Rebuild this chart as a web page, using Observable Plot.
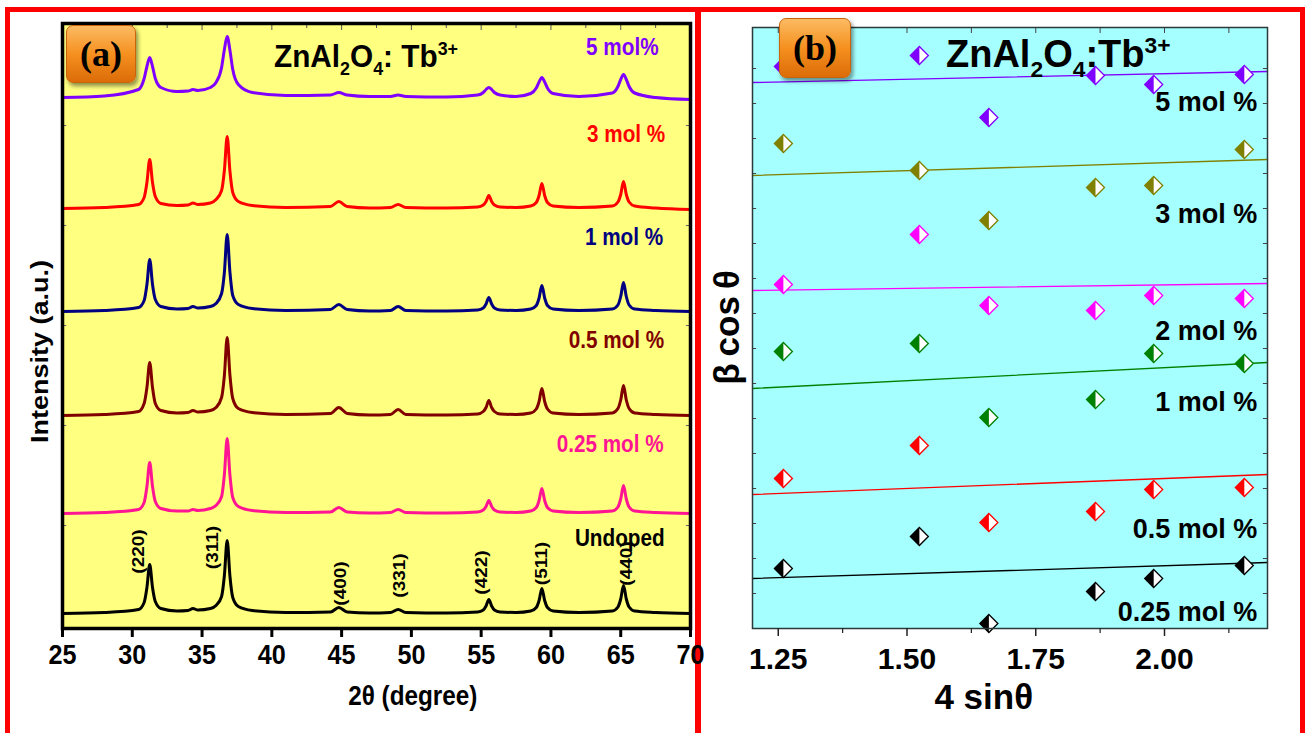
<!DOCTYPE html>
<html>
<head>
<meta charset="utf-8">
<script src="https://cdn.jsdelivr.net/npm/d3@7"></script>
<script src="https://cdn.jsdelivr.net/npm/@observablehq/plot@0.6"></script>
<style>
  body { margin: 0; background: #fff; overflow: hidden; }
  #fig { position: relative; width: 1305px; height: 733px; overflow: hidden;
         font-family: "Liberation Sans", Arial, sans-serif; }
  .frame { position: absolute; border: 5px solid #ff0000; box-sizing: border-box; }
  .badge { position: absolute; box-sizing: border-box; border-radius: 7px;
           background: linear-gradient(#fcbb63, #f5901f 50%, #dc6c08);
           border: 1px solid #c9640a; box-shadow: 2px 3px 4px rgba(0,0,0,0.45);
           font-family: "Liberation Serif", "Times New Roman", serif; font-weight: bold;
           font-size: 36px; color: #000; display: flex; align-items: center; justify-content: center; }
  .title { position: absolute; font-weight: bold; white-space: nowrap; color: #000; line-height: 1; }
  .title sub, .title sup { font-size: 60%; line-height: 0; }
  .title sub { vertical-align: -0.42em; }
  .title sup { vertical-align: 0.62em; }
</style>
</head>
<body>
<div id="fig">
  <div class="frame" style="left:5px;top:7px;width:696px;height:780px"></div>
  <div class="frame" style="left:695px;top:7px;width:610px;height:780px"></div>
  <div id="overlay">
    <div class="title" style="left:274px;top:40px;font-size:32px;transform:scaleX(0.93);transform-origin:left center">ZnAl<sub>2</sub>O<sub>4</sub>: Tb<sup>3+</sup></div>
    <div class="title" style="left:946px;top:35px;font-size:38px">ZnAl<sub>2</sub>O<sub>4</sub>:Tb<sup>3+</sup></div>
    <div class="badge" style="left:66px;top:25px;width:70px;height:58px">(a)</div>
    <div class="badge" style="left:779px;top:18px;width:72px;height:60px">(b)</div>
  </div>
</div>
<script>
// ---------- (a) XRD patterns ----------
// 2θ sampling positions (degrees), shared by every trace
const twoTheta = [25, 28, 30.45, 30.85, 31.05, 31.25, 31.45, 31.65, 32.05, 33.2, 34.0, 34.35, 34.7,
  35.6, 36.0, 36.4, 36.6, 36.8, 37.0, 37.2, 37.6, 38.6, 41.0, 44.2, 44.8, 45.4, 47.0, 48.5, 49.05, 49.6,
  52.5, 54.75, 55.15, 55.35, 55.55, 55.75, 55.95, 56.35, 57.5, 58.55, 58.95, 59.15, 59.35, 59.55, 59.75,
  60.15, 62.0, 64.4, 64.8, 65.0, 65.2, 65.4, 65.6, 66.0, 67.5, 70];

// intensity above each trace's own baseline (a.u.)
const iUndoped = [0, 1, 4, 11, 26, 49, 26, 12, 5, 2.5, 3, 5, 3.5, 5, 8, 17, 38, 73, 37, 16, 7, 3, 1,
  1.5, 6, 1.5, 0.5, 1, 4, 1, 0.5, 1.5, 3.5, 7.5, 14, 7.5, 3.5, 1.5, 1, 2.5, 6, 13, 25, 13, 6, 2.5, 1,
  2.5, 6.5, 14.5, 28, 14.5, 6.5, 2.5, 1, 0];
const i025 = [0, 1, 4, 11, 27, 51, 27, 12, 5, 2.5, 2.5, 4, 3, 5, 8, 17, 39, 75, 38, 16, 7, 3, 1,
  1.5, 6, 1.5, 0.5, 1, 4, 1, 0.5, 1.5, 3.5, 7, 13, 7, 3.5, 1.5, 1, 2.5, 6, 13, 25, 13, 6, 2.5, 1,
  2.5, 6.5, 14.5, 28, 14.5, 6.5, 2.5, 1, 0];
const i05 = [0, 1, 4, 12, 28, 53, 28, 12, 5, 2.5, 3, 5, 3.5, 5, 8, 18, 40, 78, 40, 17, 7, 3, 1,
  2, 8, 2, 0.5, 1, 6, 1, 0.5, 1.5, 4, 8, 15, 8, 4, 1.5, 1, 2.5, 6.5, 14, 27, 14, 6.5, 2.5, 1,
  2.5, 7, 15.5, 30, 15.5, 7, 2.5, 1, 0];
const i1 = [0, 1, 4, 11, 27, 52, 27, 12, 5, 2.5, 3, 5, 3.5, 5, 8, 18, 39, 77, 39, 16, 7, 3, 1,
  2, 7, 2, 0.5, 1, 5, 1, 0.5, 1.5, 3.5, 7.5, 14, 7.5, 3.5, 1.5, 1, 2.5, 6, 13.5, 26, 13.5, 6, 2.5, 1,
  2.5, 6.5, 15, 29, 15, 6.5, 2.5, 1, 0];
const i3 = [0, 1, 4, 11, 26, 49, 26, 12, 5, 3, 3.5, 5.5, 4, 5.5, 9, 18, 38, 72, 37, 16, 7, 3, 1,
  2, 7, 2, 0.5, 1, 4, 1, 0.5, 1.5, 3.5, 7, 13, 7, 3.5, 1.5, 1, 2.5, 6, 13, 25, 13, 6, 2.5, 1,
  2.5, 6.5, 14, 27, 14, 6.5, 2.5, 0.5, -1];
const i5 = [0, 1.5, 8, 19, 31, 40, 31, 19, 10, 6, 6.5, 8, 7, 10, 15, 30, 48, 61, 47, 28, 13, 5, 2,
  2.5, 5, 2.5, 1, 1, 2.5, 1, 0.5, 2.5, 5, 8, 10, 8, 5, 2.5, 1, 4, 9.5, 15.5, 20, 15.5, 9.5, 4, 1,
  4.5, 11, 18, 23, 18, 11, 4.5, 0, -2];

const xrdSamples = ["Undoped", "0.25 mol %", "0.5 mol %", "1 mol %", "3 mol %", "5 mol%"];
const xrdOffsets = [12, 112, 210, 314, 417, 528];
const xrdColors = ["#000000", "#ff1493", "#800000", "#000080", "#ff0000", "#8000ff"];
const xrdLabelX = [68.5, 68.5, 68.5, 68.35, 68.5, 68.0];
const xrdLabelY = [87, 181, 285, 388, 491, 578];

// Miller indices of the spinel reflections, written beside the undoped peaks
const hkl = ["(220)", "(311)", "(400)", "(331)", "(422)", "(511)", "(440)"];
const hklX = [30.42, 35.77, 44.95, 49.12, 55.0, 59.34, 65.41];
const hklY = [74, 78, 42, 50, 53, 62, 62];

const xTicksA = [25, 30, 35, 40, 45, 50, 55, 60, 65, 70];
const xMinorA = [27.5, 32.5, 37.5, 42.5, 47.5, 52.5, 57.5, 62.5, 67.5];
const yTicksA = [100, 200, 300, 400, 500];

// ---------- (b) Williamson–Hall plots ----------
const fourSinTheta = [1.26, 1.524, 1.659, 1.866, 1.979, 2.155];
const whSamples = ["0.25 mol %", "0.5 mol %", "1 mol %", "2 mol %", "3 mol %", "5 mol %"];
const whColors = ["#000000", "#ff0000", "#008000", "#ff00ff", "#808000", "#8000ff"];
const bc025 = [60, 92, 5, 37, 50, 63];
const bc05 = [150, 183, 106, 117, 139, 141];
const bc1 = [277, 285, 211, 229, 275, 265];
const bc2 = [344, 394, 323, 318, 333, 330];
const bc3 = [485, 458, 408, 441, 443, 479];
const bc5 = [562, 573, 511, 553, 544, 554];
// linear fits, given at both ends of the 4 sinθ range
const fitX = [1.2, 2.2];
const fitStart = [50, 134, 240, 338, 453, 546];
const fitEnd = [66, 154, 266, 345, 469, 557];
const whLabelY = [16, 99, 226, 297, 414, 526];

const xTicksB = [1.25, 1.5, 1.75, 2.0];
const xMinorB = [1.375, 1.625, 1.875, 2.125];
const yTicksB = [35, 70, 105, 140, 175, 210, 245, 280, 315, 350, 385, 420, 455, 490, 525, 560];

// ---------- tables ----------
const xrdIntensity = [iUndoped, i025, i05, i1, i3, i5];
const rowsA = xrdSamples.flatMap((s, k) =>
  twoTheta.map((t, i) => ({sample: s, t, v: xrdOffsets[k] + xrdIntensity[k][i]})));

const whValues = [bc025, bc05, bc1, bc2, bc3, bc5];
const rowsB = whSamples.flatMap((s, k) =>
  fourSinTheta.map((x, i) => ({sample: s, x, y: whValues[k][i]})));
const fitRows = whSamples.flatMap((s, k) => [
  {sample: s, x: fitX[0], y: fitStart[k]},
  {sample: s, x: fitX[1], y: fitEnd[k]}
]);

// half-filled diamond marker: white outline body + coloured left half
const diamondBody = {draw(ctx, size) {
  const h = Math.sqrt(size / Math.PI) * 1.8;
  ctx.moveTo(0, -h); ctx.lineTo(h, 0); ctx.lineTo(0, h); ctx.lineTo(-h, 0); ctx.closePath();
}};
const diamondLeft = {draw(ctx, size) {
  const h = Math.sqrt(size / Math.PI) * 1.8;
  ctx.moveTo(0, -h); ctx.lineTo(0, h); ctx.lineTo(-h, 0); ctx.closePath();
}};

const font = "Liberation Sans, Arial, sans-serif";
const bold = {fontWeight: "bold", fill: "black"};

const plotA = Plot.plot({
  width: 700, height: 733,
  marginLeft: 62, marginRight: 10, marginTop: 23, marginBottom: 105,
  x: {domain: [25, 70], axis: null},
  y: {domain: [-3, 602], axis: null},
  color: {domain: xrdSamples, range: xrdColors},
  style: {background: "transparent", overflow: "visible", fontFamily: font},
  marks: [
    Plot.frame({fill: "#ffff80", stroke: null}),
    Plot.ruleY(yTicksA, {x1: 25, x2: 25.3, stroke: "#666", strokeWidth: 1}),
    Plot.ruleY(yTicksA, {x1: 69.7, x2: 70, stroke: "#666", strokeWidth: 1}),
    Plot.ruleX(xMinorA, {y1: 602, y2: 597, stroke: "#555", strokeWidth: 1}),
    Plot.ruleX(xTicksA, {y1: 602, y2: 595, stroke: "#555", strokeWidth: 1}),
    Plot.line(rowsA, {x: "t", y: "v", z: "sample", stroke: "sample", strokeWidth: 3,
      curve: "monotone-x", strokeLinejoin: "round"}),
    Plot.text(hkl, {x: hklX, y: hklY, text: d => d, rotate: -90, fontSize: 19, ...bold}),
    Plot.text(xrdSamples, {x: xrdLabelX, y: xrdLabelY, text: d => d, fill: d => d,
      textAnchor: "end", fontSize: 23, fontWeight: "bold"}),
    Plot.frame({stroke: "black", strokeWidth: 3.5}),
    Plot.ruleX(xTicksA, {y1: -3, y2: -12, stroke: "black", strokeWidth: 3}),
    Plot.text(xTicksA, {x: d => d, y: -3, dy: 27, text: d => String(d), fontSize: 28, ...bold}),
    Plot.text(["2θ (degree)"], {x: 50.1, y: -3, dy: 68, text: d => d, fontSize: 27, ...bold}),
    Plot.text(["Intensity (a.u.)"], {x: 25, dx: -22, y: 274, text: d => d, rotate: -90,
      fontSize: 27, ...bold})
  ]
});

const plotB = Plot.plot({
  width: 605, height: 733,
  marginLeft: 52, marginRight: 38, marginTop: 27, marginBottom: 105,
  x: {domain: [1.2, 2.2], axis: null},
  y: {domain: [0, 601], axis: null},
  color: {domain: whSamples, range: whColors},
  style: {background: "transparent", overflow: "visible", fontFamily: font},
  marks: [
    Plot.frame({fill: "#a6ffff", stroke: null}),
    Plot.ruleY(yTicksB, {x1: 1.2, x2: 1.208, stroke: "#444", strokeWidth: 1}),
    Plot.ruleY(yTicksB, {x1: 2.192, x2: 2.2, stroke: "#444", strokeWidth: 1}),
    Plot.ruleX(xTicksB.concat(xMinorB), {y1: 601, y2: 595, stroke: "#444", strokeWidth: 1}),
    Plot.line(fitRows, {x: "x", y: "y", z: "sample", stroke: "sample", strokeWidth: 1.3}),
    Plot.dot(rowsB, {x: "x", y: "y", symbol: diamondBody, r: 5, fill: "white",
      stroke: "sample", strokeWidth: 1.3}),
    Plot.dot(rowsB, {x: "x", y: "y", symbol: diamondLeft, r: 5, fill: "sample"}),
    Plot.text(whSamples, {x: 2.18, y: whLabelY, text: d => d, textAnchor: "end",
      fontSize: 27, ...bold}),
    Plot.frame({stroke: "#2a3a3a", strokeWidth: 1.5}),
    Plot.ruleX(xTicksB, {y1: 0, y2: -8, stroke: "#222", strokeWidth: 1.5}),
    Plot.ruleX(xMinorB, {y1: 0, y2: -5, stroke: "#222", strokeWidth: 1.2}),
    Plot.text(xTicksB, {x: d => d, y: 0, dy: 31, text: d => d.toFixed(2), fontSize: 30, ...bold}),
    Plot.text(["4 sinθ"], {x: 1.649, y: 0, dy: 69, text: d => d, fontSize: 35, ...bold}),
    Plot.text(["β\u2009cos\u2009θ"], {x: 1.2, dx: -25, y: 301, text: d => d, rotate: -90,
      fontSize: 35, ...bold})
  ]
});

const fig = document.getElementById("fig");
const overlay = document.getElementById("overlay");
for (const [svg, left] of [[plotA, 0], [plotB, 700]]) {
  svg.style.position = "absolute";
  svg.style.left = left + "px";
  svg.style.top = "0px";
  fig.insertBefore(svg, overlay);
}

// panel (a) lettering is horizontally narrow: squeeze each label about its own centre
function condense(svg, k) {
  svg.querySelectorAll("text").forEach(t => {
    const b = t.getBBox();
    const c = t.transform.baseVal.consolidate();
    const m = c ? c.matrix : svg.createSVGMatrix();
    const p = new DOMPoint(b.x + b.width / 2, b.y + b.height / 2).matrixTransform(m);
    const old = t.getAttribute("transform") || "";
    t.setAttribute("transform", `translate(${p.x},0) scale(${k},1) translate(${-p.x},0) ${old}`);
  });
}
condense(plotA, 0.9);
</script>
</body>
</html>
